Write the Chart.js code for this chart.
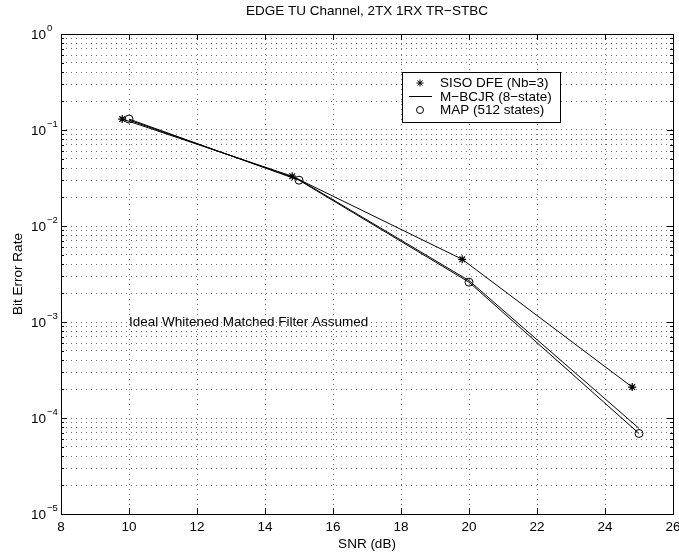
<!DOCTYPE html>
<html>
<head>
<meta charset="utf-8">
<script src="https://cdn.jsdelivr.net/npm/chart.js@4/dist/chart.umd.min.js"></script>
<style>
  html, body { margin: 0; padding: 0; background: #fff; }
  #wrap { width: 679px; height: 552px; }
</style>
</head>
<body>
<div id="wrap"><canvas id="berChart" width="679" height="552"></canvas></div>
<script>
// ── Data ────────────────────────────────────────────────────

const chartTitle = 'EDGE TU Channel, 2TX 1RX TR\u2212STBC';
const xLabel     = 'SNR (dB)';
const yLabel     = 'Bit Error Rate';
const noteText   = 'Ideal Whitened Matched Filter Assumed';

const sisoSnr  = [9.8, 14.8, 19.8, 24.8];
const sisoBer  = [0.13, 0.033, 0.0045, 2.1e-4];

const bcjrSnr  = [10, 15, 20, 25];
const bcjrBer  = [0.127, 0.0305, 0.0027, 7.8e-5];

const mapSnr   = [10, 15, 20, 25];
const mapBer   = [0.13, 0.030, 0.0026, 6.9e-5];

const xTicks      = [8, 10, 12, 14, 16, 18, 20, 22, 24, 26];
const yDecades    = [-5, -4, -3, -2, -1, 0];
const yMinorSteps = [1, 2, 3, 4, 5, 6, 7, 8, 9];

const FONT = '"Liberation Sans", Arial, Helvetica, sans-serif';

const toPoints = (xs, ys) => xs.map((v, i) => ({ x: v, y: ys[i] }));

// every 1..9 x 10^n from 1e-5 up to 1
const yTickValues = [];
yDecades.forEach(e => {
  yMinorSteps.forEach(m => {
    const v = m * Math.pow(10, e);
    if (v <= 1.0000001) yTickValues.push(v);
  });
});

// ── Frame, inward ticks, labels, legend ─────────────────────

const decorPlugin = {
  id: 'decor',
  afterDraw(chart) {
    const { ctx, chartArea: a, scales: { x, y } } = chart;
    ctx.save();
    ctx.strokeStyle = '#000';
    ctx.fillStyle   = '#000';
    ctx.lineWidth   = 1;

    // box
    ctx.strokeRect(Math.round(a.left) + 0.5, Math.round(a.top) + 0.5,
                   Math.round(a.right - a.left), Math.round(a.bottom - a.top));

    // x ticks (bottom + top)
    ctx.beginPath();
    xTicks.forEach(v => {
      const px = Math.round(x.getPixelForValue(v)) + 0.5;
      ctx.moveTo(px, a.bottom); ctx.lineTo(px, a.bottom - 6);
      ctx.moveTo(px, a.top);    ctx.lineTo(px, a.top + 6);
    });
    // y ticks (left + right), long on decades
    yTickValues.forEach(v => {
      const py = Math.round(y.getPixelForValue(v)) + 0.5;
      const len = Math.abs(Math.log10(v) - Math.round(Math.log10(v))) < 1e-9 ? 6 : 3;
      ctx.moveTo(a.left, py);  ctx.lineTo(a.left + len, py);
      ctx.moveTo(a.right, py); ctx.lineTo(a.right - len, py);
    });
    ctx.stroke();

    // x tick labels
    ctx.font = '13.5px ' + FONT;
    ctx.textAlign = 'center';
    ctx.textBaseline = 'middle';
    xTicks.forEach(v => ctx.fillText(String(v), x.getPixelForValue(v), a.bottom + 13));

    // y tick labels as 10^e
    yDecades.forEach(e => {
      const py = y.getPixelForValue(Math.pow(10, e));
      ctx.font = '13.5px ' + FONT;
      ctx.textAlign = 'right';
      ctx.textBaseline = 'middle';
      ctx.fillText('10', a.left - 15, py + 1);
      ctx.font = '9.5px ' + FONT;
      ctx.textAlign = 'left';
      ctx.textBaseline = 'alphabetic';
      ctx.fillText(e === 0 ? '0' : '\u2212' + Math.abs(e), a.left - 14, py - 3);
    });

    // axis titles and chart title
    ctx.font = '13.5px ' + FONT;
    ctx.textAlign = 'center';
    ctx.textBaseline = 'middle';
    ctx.fillText(xLabel, (a.left + a.right) / 2, a.bottom + 30);
    ctx.fillText(chartTitle, (a.left + a.right) / 2, 11);
    ctx.save();
    ctx.translate(18, (a.top + a.bottom) / 2);
    ctx.rotate(-Math.PI / 2);
    ctx.fillText(yLabel, 0, 0);
    ctx.restore();

    // note text anchored at (10 dB, 1e-3)
    ctx.textAlign = 'left';
    ctx.fillText(noteText, x.getPixelForValue(10), y.getPixelForValue(1e-3));

    // legend
    const lx = 402, ly = 72, lw = 158, lh = 50;
    ctx.fillStyle = '#fff';
    ctx.fillRect(lx, ly, lw, lh);
    ctx.strokeStyle = '#000';
    ctx.strokeRect(lx + 0.5, ly + 0.5, lw, lh);
    ctx.fillStyle = '#000';
    const rows = [ly + 11, ly + 24.5, ly + 38];
    const mx = lx + 18;
    chart.data.datasets.forEach((ds, i) => {
      const ry = rows[i];
      ctx.beginPath();
      if (ds.legendMark === 'star') {
        const r = 3.5;
        ctx.moveTo(mx - r, ry); ctx.lineTo(mx + r, ry);
        ctx.moveTo(mx, ry - r); ctx.lineTo(mx, ry + r);
        const d = r * 0.72;
        ctx.moveTo(mx - d, ry - d); ctx.lineTo(mx + d, ry + d);
        ctx.moveTo(mx - d, ry + d); ctx.lineTo(mx + d, ry - d);
      } else if (ds.legendMark === 'line') {
        ctx.moveTo(lx + 7, ry); ctx.lineTo(lx + 30, ry);
      } else {
        ctx.arc(mx, ry, 3.5, 0, Math.PI * 2);
      }
      ctx.stroke();
      ctx.font = '13.5px ' + FONT;
      ctx.textAlign = 'left';
      ctx.textBaseline = 'middle';
      ctx.fillText(ds.label, lx + 38, ry + 0.5);
    });

    ctx.restore();
  }
};

// ── Chart ───────────────────────────────────────────────────

new Chart(document.getElementById('berChart'), {
  type: 'line',
  data: {
    datasets: [{
      label: 'SISO DFE (Nb=3)',
      legendMark: 'star',
      data: toPoints(sisoSnr, sisoBer),
      borderColor: '#000',
      borderWidth: 1,
      pointStyle: 'star',
      pointRadius: 4,
      pointBorderColor: '#000',
      pointBorderWidth: 1.2,
      pointBackgroundColor: 'transparent'
    }, {
      label: 'M\u2212BCJR (8\u2212state)',
      legendMark: 'line',
      data: toPoints(bcjrSnr, bcjrBer),
      borderColor: '#000',
      borderWidth: 1,
      pointRadius: 0
    }, {
      label: 'MAP (512 states)',
      legendMark: 'circle',
      data: toPoints(mapSnr, mapBer),
      borderColor: '#000',
      borderWidth: 1,
      pointStyle: 'circle',
      pointRadius: 4,
      pointBorderColor: '#000',
      pointBorderWidth: 1,
      pointBackgroundColor: 'transparent'
    }]
  },
  options: {
    responsive: false,
    animation: false,
    devicePixelRatio: 1,
    layout: { padding: { top: 34, right: 6, left: 0, bottom: 0 } },
    plugins: {
      legend:  { display: false },
      title:   { display: false },
      tooltip: { enabled: false }
    },
    elements: { line: { tension: 0 } },
    scales: {
      x: {
        type: 'linear',
        min: 8,
        max: 26,
        afterBuildTicks: s => { s.ticks = xTicks.map(v => ({ value: v })); },
        afterFit: s => { s.height = 38; },
        ticks: { display: false },
        grid:  { color: 'rgba(0,0,0,0.55)', lineWidth: 1, drawTicks: false },
        border: { display: false, dash: [1, 4] }
      },
      y: {
        type: 'logarithmic',
        min: 1e-5,
        max: 1,
        afterBuildTicks: s => { s.ticks = yTickValues.map(v => ({ value: v })); },
        afterFit: s => { s.width = 61; },
        ticks: { display: false },
        grid:  { color: 'rgba(0,0,0,0.55)', lineWidth: 1, drawTicks: false },
        border: { display: false, dash: [1, 4] }
      }
    }
  },
  plugins: [decorPlugin]
});
</script>
</body>
</html>
